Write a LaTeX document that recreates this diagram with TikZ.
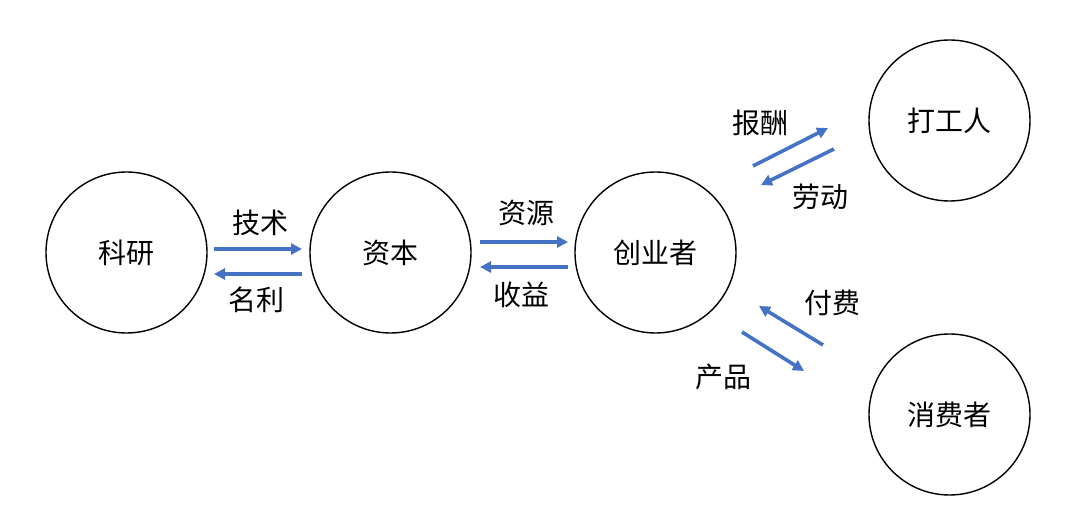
\documentclass[tikz,border=0pt]{standalone}
\usepackage{fontspec}
\setmainfont{Noto Sans CJK SC}
\usetikzlibrary{arrows.meta}
\definecolor{arrowblue}{HTML}{4472C4}
\tikzset{
  party/.style={draw=black, line width=1.4pt, circle, minimum size=161pt, inner sep=0pt, font=\fontsize{28}{28}\selectfont},
  flow/.style={draw=arrowblue, line width=3.6pt, -{Triangle[length=11pt,width=11pt]}},
  lbl/.style={font=\fontsize{28}{28}\selectfont, inner sep=0pt}
}
\begin{document}
\begin{tikzpicture}[x=1pt,y=-1pt]
\useasboundingbox (0,0) rectangle (1080,529);
\node[party] (ky) at (126.5,252.5) {科研};
\node[party] (zb) at (390.5,252.5) {资本};
\node[party] (cy) at (655.5,252.5) {创业者};
\node[party] (dg) at (949.5,120.5) {打工人};
\node[party] (xf) at (949.5,414.5) {消费者};
% arrow end points
\coordinate (a1s) at (214,249); \coordinate (a1e) at (302,249);
\coordinate (a2s) at (302,274); \coordinate (a2e) at (214,274);
\coordinate (b1s) at (480,242); \coordinate (b1e) at (568,242);
\coordinate (b2s) at (568,267); \coordinate (b2e) at (480,267);
\coordinate (c1s) at (753,166); \coordinate (c1e) at (828,128);
\coordinate (c2s) at (834,149); \coordinate (c2e) at (761,185);
\coordinate (d1s) at (823,345); \coordinate (d1e) at (759,306);
\coordinate (d2s) at (742,332); \coordinate (d2e) at (804,371);
\draw[flow] (a1s) -- (a1e);
\draw[flow] (a2s) -- (a2e);
\draw[flow] (b1s) -- (b1e);
\draw[flow] (b2s) -- (b2e);
\draw[flow] (c1s) -- (c1e);
\draw[flow] (c2s) -- (c2e);
\draw[flow] (d1s) -- (d1e);
\draw[flow] (d2s) -- (d2e);
\node[lbl] (t1) at (260,223) {技术};
\node[lbl] (t2) at (256,300) {名利};
\node[lbl] (t3) at (526,213) {资源};
\node[lbl] (t4) at (521,295) {收益};
\node[lbl] (t5) at (760,123) {报酬};
\node[lbl] (t6) at (820,197) {劳动};
\node[lbl] (t7) at (832,303) {付费};
\node[lbl] (t8) at (723,377) {产品};
\end{tikzpicture}
\end{document}
